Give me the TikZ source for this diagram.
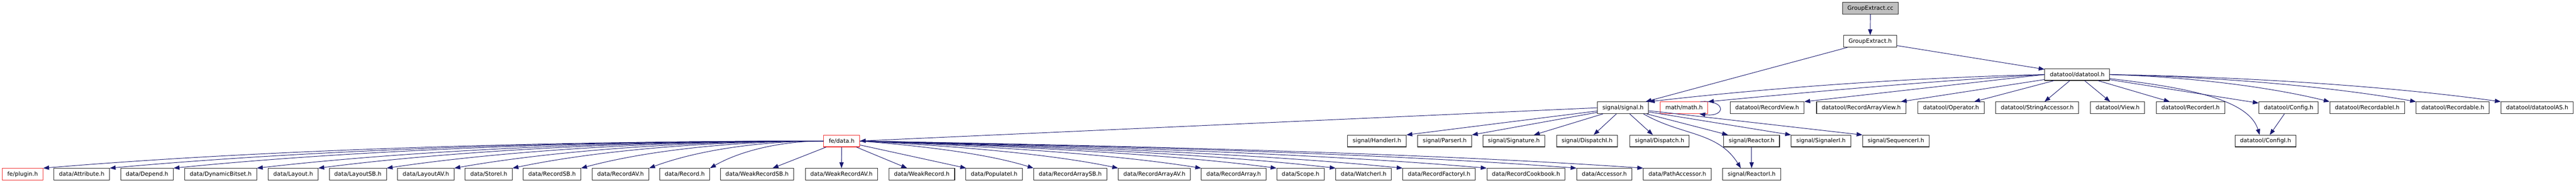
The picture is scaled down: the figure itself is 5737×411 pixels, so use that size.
\documentclass[tikz,border=0pt]{standalone}
\usepackage{fontspec}
\setmainfont{DejaVu Sans}
\usetikzlibrary{arrows.meta,calc}
\definecolor{edgeblue}{HTML}{191970}
\definecolor{boxred}{HTML}{F03030}
\definecolor{ccgray}{HTML}{BFBFBF}
\tikzset{
  box/.style={draw=black!85, line width=1.2pt, fill=white, rectangle,
    minimum height=26pt, inner xsep=11.3pt, inner ysep=0pt,
    font=\fontsize{12.7}{15}\selectfont, text=black},
  redbox/.style={box, draw=boxred},
  edge/.style={draw=edgeblue, line width=1.1pt,
    -{Triangle[length=13pt,width=9.5pt]}, fill=none},
  cv/.style n args={4}{to path={
    let \p1=(\tikztostart), \p2=(\tikztotarget) in
    .. controls ({\x1+#1*(\x2-\x1)},{\y1+#2*(\y2-\y1)})
    and ({\x2-#3*(\x2-\x1)},{\y2-#4*(\y2-\y1)}) .. (\tikztotarget) \tikztonodes}},
}
\begin{document}
\begin{tikzpicture}[x=1pt,y=1pt]
\useasboundingbox (0,0) rectangle (5737,-411);
\fill[white] (0,0) rectangle (5737,-411);
% row 0-2
\node[box, fill=ccgray] (gecc) at (4165.5,-18.5) {GroupExtract.cc};
\node[box] (geh) at (4165,-92) {GroupExtract.h};
\node[box] (dt) at (4626,-166) {datatool/datatool.h};
% row 3
\node[box] (sig) at (3614.5,-240) {signal/signal.h};
\node[redbox] (math) at (3750.5,-240) {math/math.h};
\node[box] (rview) at (3935.5,-240) {datatool/RecordView.h};
\node[box] (raview) at (4145,-240) {datatool/RecordArrayView.h};
\node[box] (oper) at (4345,-240) {datatool/Operator.h};
\node[box] (stracc) at (4537,-240) {datatool/StringAccessor.h};
\node[box] (view) at (4716,-240) {datatool/View.h};
\node[box] (recorderI) at (4878.5,-240) {datatool/RecorderI.h};
\node[box] (config) at (5097,-240) {datatool/Config.h};
\node[box] (recordableI) at (5272,-240) {datatool/RecordableI.h};
\node[box] (recordable) at (5462.5,-240) {datatool/Recordable.h};
\node[box] (dtas) at (5650.5,-240) {datatool/datatoolAS.h};
% row 4
\node[redbox] (fedata) at (1874.5,-314) {fe/data.h};
\node[box] (handlerI) at (3066.5,-314) {signal/HandlerI.h};
\node[box] (parserI) at (3217.5,-314) {signal/ParserI.h};
\node[box] (signature) at (3371.5,-314) {signal/Signature.h};
\node[box] (dispatchI) at (3534.5,-314) {signal/DispatchI.h};
\node[box] (dispatch) at (3696,-314) {signal/Dispatch.h};
\node[box] (reactor) at (3901,-314) {signal/Reactor.h};
\node[box] (signalerI) at (4055.5,-314) {signal/SignalerI.h};
\node[box] (sequencerI) at (4222.5,-314) {signal/SequencerI.h};
\node[box] (configI) at (5045.5,-314) {datatool/ConfigI.h};
% row 5
\node[redbox] (plugin) at (50.4,-388) {fe/plugin.h};
\node[box] (attribute) at (182,-388) {data/Attribute.h};
\node[box] (depend) at (327.5,-388) {data/Depend.h};
\node[box] (dynbit) at (491.5,-388) {data/DynamicBitset.h};
\node[box] (layout) at (653,-388) {data/Layout.h};
\node[box] (layoutSB) at (797,-388) {data/LayoutSB.h};
\node[box] (layoutAV) at (948.5,-388) {data/LayoutAV.h};
\node[box] (storeI) at (1088.5,-388) {data/StoreI.h};
\node[box] (recordSB) at (1229.5,-388) {data/RecordSB.h};
\node[box] (recordAV) at (1382,-388) {data/RecordAV.h};
\node[box] (record) at (1525,-388) {data/Record.h};
\node[box] (wrSB) at (1686,-388) {data/WeakRecordSB.h};
\node[box] (wrAV) at (1874,-388) {data/WeakRecordAV.h};
\node[box] (wr) at (2053,-388) {data/WeakRecord.h};
\node[box] (populateI) at (2214,-388) {data/PopulateI.h};
\node[box] (raSB) at (2383.5,-388) {data/RecordArraySB.h};
\node[box] (raAV) at (2571,-388) {data/RecordArrayAV.h};
\node[box] (ra) at (2747.5,-388) {data/RecordArray.h};
\node[box] (scope) at (2896.5,-388) {data/Scope.h};
\node[box] (watcherI) at (3037,-388) {data/WatcherI.h};
\node[box] (rfI) at (3205,-388) {data/RecordFactoryI.h};
\node[box] (cookbook) at (3398.5,-388) {data/RecordCookbook.h};
\node[box] (accessor) at (3573,-388) {data/Accessor.h};
\node[box] (pathacc) at (3735.5,-388) {data/PathAccessor.h};
\node[box] (reactorI) at (3901,-388) {signal/ReactorI.h};

% edges from top
\draw[edge] (gecc) -- (geh);
\draw[edge] (geh) -- (sig);
\draw[edge] (geh) -- (dt);
% datatool edges
\draw[edge] (dt.west) to[cv={0.35}{0.12}{0.3}{0.5}] (sig.north east);
\draw[edge] (dt.west) to[cv={0.35}{0.25}{0.3}{0.35}] (math.north east);
\draw[edge] (dt.west) -- (rview.north east);
\draw[edge] (dt) -- (raview);
\draw[edge] (dt) -- (oper);
\draw[edge] (dt) -- (stracc);
\draw[edge] (dt) -- (view);
\draw[edge] (dt) -- (recorderI);
\draw[edge] (dt) -- (config);
\draw[edge] ([yshift=-9pt]dt.east) .. controls +(170,-20) and +(-25,80) .. ([xshift=-13pt]configI.north);
\draw[edge] (config) -- (configI);
\foreach \t in {recordableI,recordable,dtas}
  \draw[edge] (dt.east) to[cv={0.4}{0.1}{0.25}{0.5}] (\t.north west);
% math self loop
\draw[edge] ([xshift=-17pt]math.north east) .. controls +(58,5) and +(60,-8) .. ([xshift=-19pt]math.south east);
% signal edges
\draw[edge] (sig.west) -- (fedata.east);
\draw[edge] (sig) -- (handlerI.north east);
\draw[edge] (sig) -- (parserI.north east);
\draw[edge] (sig) -- (signature);
\draw[edge] (sig) -- (dispatchI);
\draw[edge] (sig) -- (dispatch);
\draw[edge] (sig) -- (reactor);
\draw[edge] (sig) -- (signalerI.north west);
\draw[edge] (sig) -- (sequencerI.north west);
\draw[edge] ([xshift=-12pt]sig.south east) to[out=-30,in=122] ([xshift=-24pt]reactorI.north);
\draw[edge] (reactor) -- (reactorI);
% fe/data edges
\foreach \t in {plugin,attribute,depend,dynbit,layout,layoutSB,layoutAV,storeI,recordSB,recordAV,record}
  \draw[edge] (fedata.west) to[cv={0.4}{0}{0.25}{0.6}] (\t.north east);
\draw[edge] (fedata) -- (wrSB);
\draw[edge] (fedata) -- (wrAV);
\draw[edge] (fedata) -- (wr);
\draw[edge] (fedata) -- (populateI);
\foreach \t in {raSB,raAV,ra,scope,watcherI,rfI,cookbook,accessor,pathacc}
  \draw[edge] (fedata.east) to[cv={0.4}{0.2}{0.25}{0.5}] (\t.north west);
\end{tikzpicture}
\end{document}
